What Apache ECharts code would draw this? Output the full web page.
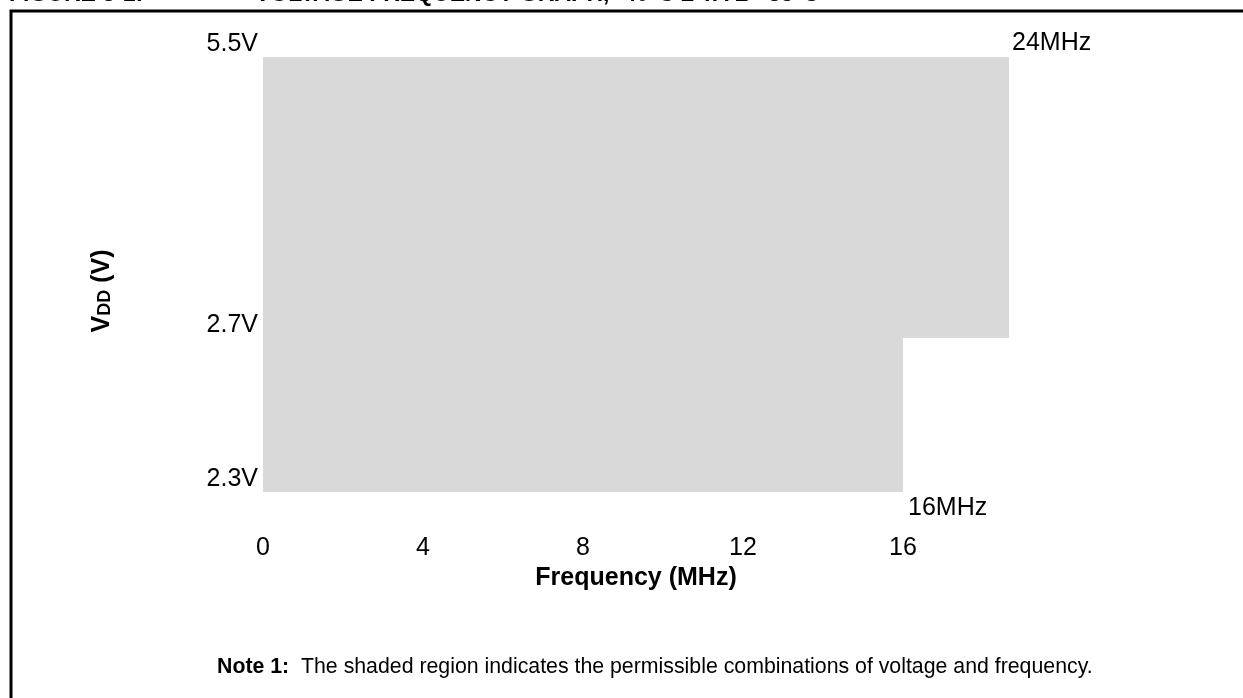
<!DOCTYPE html>
<html><head><meta charset="utf-8">
<script src="https://cdn.jsdelivr.net/npm/echarts@6/dist/echarts.min.js"></script>
<style>html,body{margin:0;padding:0;background:#fff}#c{width:1243px;height:698px}</style>
</head><body><div id="c"></div>
<script>
// ---- data ----
const xTickValues = [0, 4, 8, 12, 16];            // MHz
const yTickValues = [2.3, 2.7, 5.5];              // V
const regionFreq = [0, 16, 16, 24, 24, 0];        // MHz, outline of permissible region
const regionVdd  = [2.3, 2.3, 2.7, 2.7, 5.5, 5.5];// V
const cornerFreq = [24, 16];
const cornerVdd  = [5.5, 2.3];
const cornerLabels = ['24MHz', '16MHz'];
const xName = 'Frequency (MHz)';
const titleNum = 'FIGURE 8-1:';
const titleText = 'VOLTAGE FREQUENCY GRAPH, -40°C ≤ TA ≤ +85°C';
const noteLabel = 'Note 1:';
const noteText = 'The shaded region indicates the permissible combinations of voltage and frequency.';

const FONT = '"Liberation Sans", Arial, sans-serif';
const chart = echarts.init(document.getElementById('c'), null, {renderer: 'canvas'});

const cornerStyles = [
  {position: 'right', distance: 3, offset: [0, -14]},
  {position: 'right', distance: 5, offset: [0, 16]}
];

const option = {
  animation: false,
  backgroundColor: '#fff',
  grid: {left: 263, right: 234, top: 57, bottom: 206, containLabel: false},
  xAxis: {
    type: 'value', min: 0, max: 24,
    breaks: [{start: 16.5, end: 23.5, gap: 1.65}],
    breakArea: {show: false},
    axisLine: {show: false}, axisTick: {show: false}, splitLine: {show: false},
    axisLabel: {customValues: xTickValues, margin: 44, fontFamily: FONT, fontSize: 25, color: '#000'},
    name: xName, nameLocation: 'middle', nameGap: 74,
    nameTextStyle: {fontFamily: FONT, fontSize: 25, fontWeight: 'bold', color: '#000'}
  },
  yAxis: {
    type: 'value', min: 2.3, max: 5.5,
    breaks: [{start: 2.8, end: 5.4, gap: 0.53}],
    breakArea: {show: false},
    axisLine: {show: false}, axisTick: {show: false}, splitLine: {show: false},
    axisLabel: {customValues: yTickValues, margin: 5, verticalAlign: 'bottom',
      formatter: v => v.toFixed(1) + 'V', fontFamily: FONT, fontSize: 25, color: '#000'}
  },
  graphic: [
    {type: 'rect', shape: {x: 11, y: 11, width: 1400, height: 900},
     style: {fill: 'none', stroke: '#000', lineWidth: 3}, silent: true},
    {type: 'text', x: 9, y: -5, style: {text: titleNum, font: 'bold 23px ' + FONT, fill: '#000', verticalAlign: 'middle'}},
    {type: 'text', x: 255, y: -5, style: {text: titleText, font: 'bold 23px ' + FONT, fill: '#000', verticalAlign: 'middle'}},
    {type: 'text', x: 102, y: 291, rotation: Math.PI / 2,
     style: {text: '{v|V}{d|DD}{v| (V)}', align: 'center', verticalAlign: 'middle',
       rich: {v: {font: 'bold 25px ' + FONT, fill: '#000', verticalAlign: 'bottom'},
              d: {font: 'bold 18px ' + FONT, fill: '#000', verticalAlign: 'bottom'}}}},
    {type: 'text', x: 217, y: 667,
     style: {text: '{b|' + noteLabel + '}{n|  ' + noteText + '}', verticalAlign: 'middle',
       rich: {b: {font: 'bold 21.3px ' + FONT, fill: '#000'}, n: {font: '21.3px ' + FONT, fill: '#000'}}}}
  ],
  series: [
    {
      type: 'custom', silent: true, clip: false,
      data: [[regionFreq[0], regionVdd[0]]],
      renderItem: function (params, api) {
        const pts = regionFreq.map((f, i) => api.coord([f, regionVdd[i]]));
        return {type: 'polygon', shape: {points: pts}, style: {fill: '#d9d9d9'}};
      }
    },
    {
      type: 'scatter', silent: true, symbolSize: 0,
      itemStyle: {color: '#000', opacity: 1},
      label: {show: true, fontFamily: FONT, fontSize: 25, color: '#000'},
      data: cornerFreq.map((f, i) => ({
        value: [f, cornerVdd[i]],
        label: Object.assign({formatter: cornerLabels[i], color: '#000'}, cornerStyles[i])
      }))
    }
  ]
};
chart.setOption(option);
</script></body></html>
